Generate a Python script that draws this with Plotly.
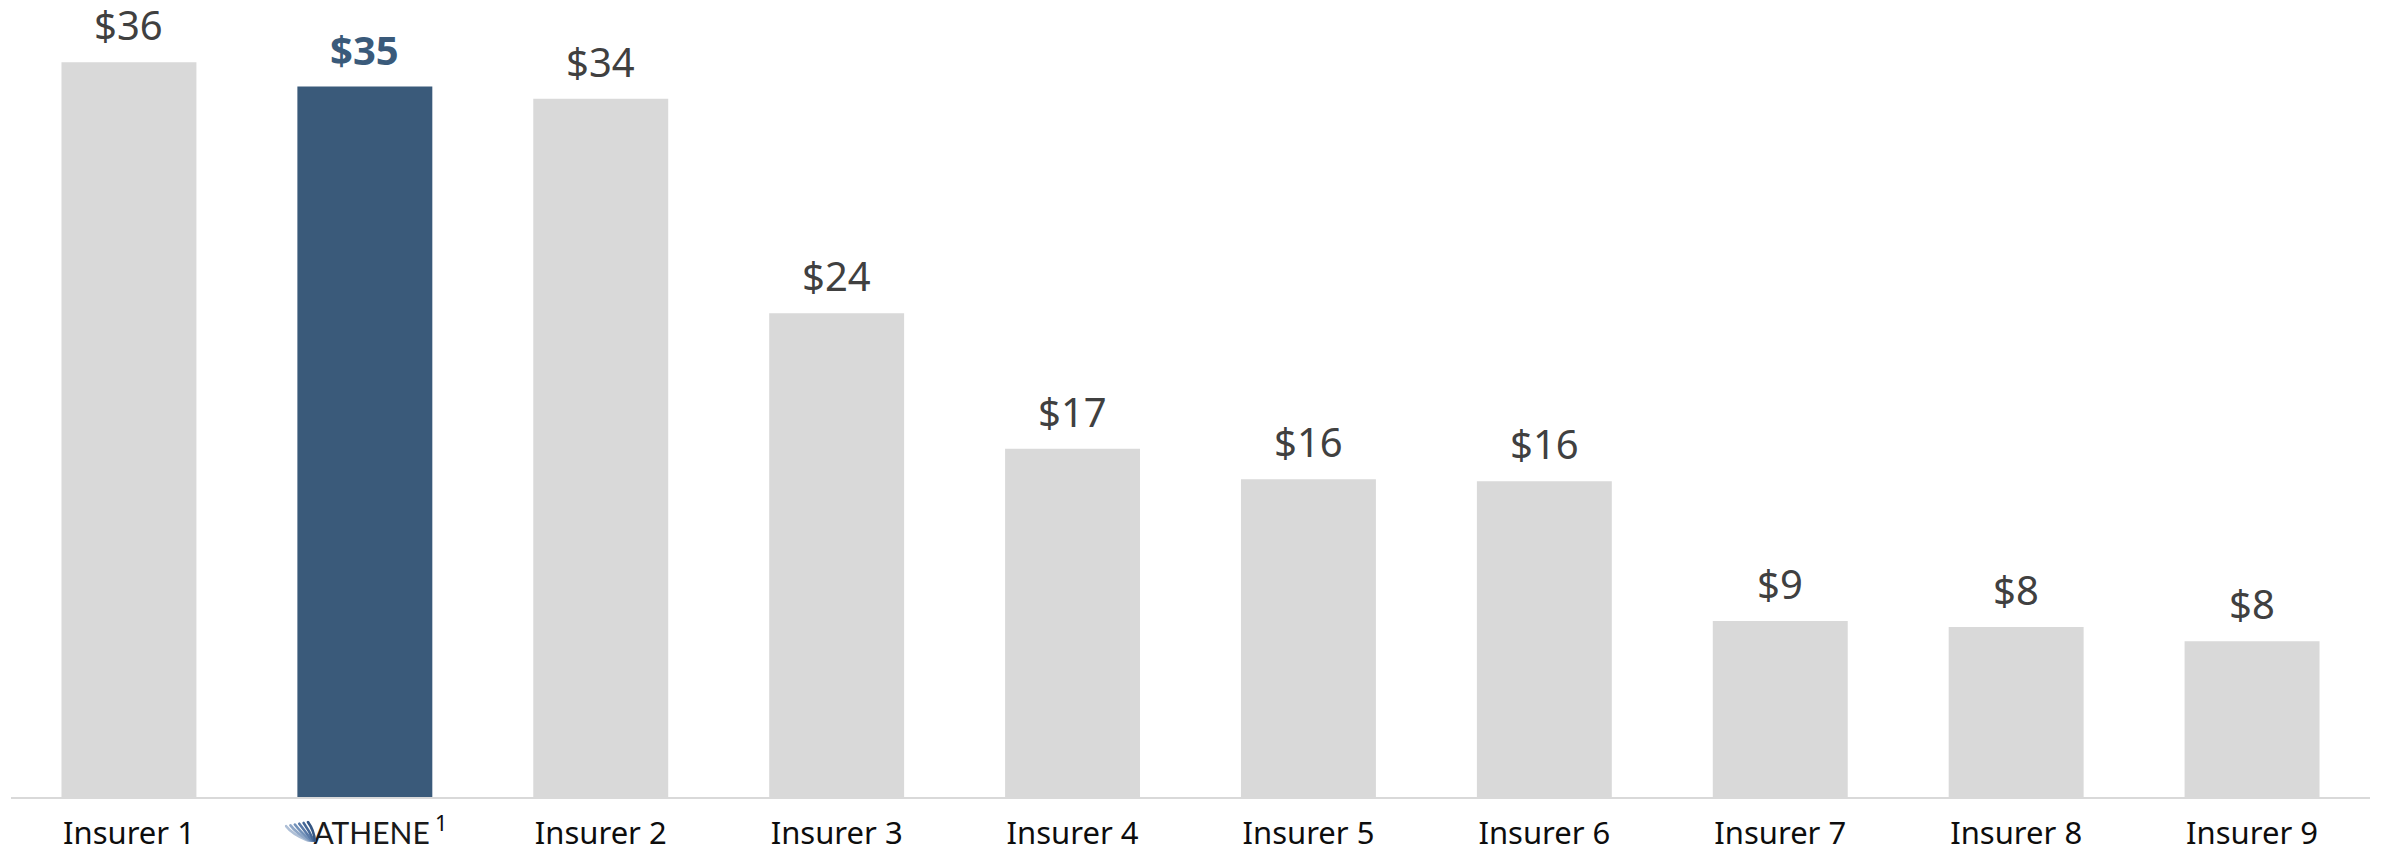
import base64
import plotly.graph_objects as go

# Values ($, rounded in labels)
categories = ["Insurer 1", "Athene", "Insurer 2", "Insurer 3", "Insurer 4",
              "Insurer 5", "Insurer 6", "Insurer 7", "Insurer 8", "Insurer 9"]
values = [36.3, 35.1, 34.5, 23.9, 17.2, 15.7, 15.6, 8.7, 8.4, 7.7]
tick_labels = ["Insurer 1",
               "\u2003<span style='font-family:Lato;font-size:30px;color:#1a1a1a'>ATHENE</span>"
               "\u2009<sup>1</sup>",
               "Insurer 2", "Insurer 3", "Insurer 4", "Insurer 5",
               "Insurer 6", "Insurer 7", "Insurer 8", "Insurer 9"]
highlight = "Athene"

GREY = "#D9D9D9"
BLUE = "#3A5A7A"

bar_colors = [BLUE if c == highlight else GREY for c in categories]

fig = go.Figure(go.Bar(
    x=categories,
    y=values,
    marker=dict(color=bar_colors, line=dict(width=0)),
    hoverinfo="skip",
))

# value labels above each bar
for c, v in zip(categories, values):
    is_hl = c == highlight
    fig.add_annotation(
        x=c, y=v, xref="x", yref="y",
        text=f"<b>${v:.0f}</b>" if is_hl else f"${v:.0f}",
        showarrow=False, yanchor="bottom", yshift=8,
        font=dict(family="Noto Sans", size=40,
                  color=BLUE if is_hl else "#404040"),
    )

# small swoosh logo for the Athene tick label
stripes = []
shades = ["#aebfd6", "#8fa7c7", "#7190b8", "#5a7aa8", "#456796", "#355684"]
for i, col in enumerate(shades):
    x0 = 1.5 + i * 4.4
    y0 = 5.5 - i * 0.8
    stripes.append(
        f'<path d="M{x0:.1f},{y0:.1f} Q{x0 + 6:.1f},{y0 + 8:.1f} {25 + i * 1.1:.1f},20.5" '
        f'stroke="{col}" stroke-width="2.6" fill="none" stroke-linecap="round"/>'
    )
svg = ('<svg xmlns="http://www.w3.org/2000/svg" width="32" height="21" '
       'viewBox="0 0 32 21">' + "".join(stripes) + "</svg>")
logo_src = "data:image/svg+xml;base64," + base64.b64encode(svg.encode()).decode()

fig.add_layout_image(dict(
    source=logo_src, xref="x", yref="paper",
    x=0.66, y=-0.030, sizex=0.135, sizey=0.027,
    xanchor="left", yanchor="top", sizing="stretch", layer="above",
))

# page body adds an 8px margin, so the figure is 8px smaller than the window
fig.update_layout(
    width=2376,
    height=845,
    paper_bgcolor="white",
    plot_bgcolor="white",
    bargap=0.428,
    showlegend=False,
    margin=dict(l=3, r=14, t=2, b=56, pad=0),
    font=dict(family="Noto Sans", color="#000000"),
    xaxis=dict(
        tickmode="array",
        tickvals=categories,
        ticktext=tick_labels,
        tickfont=dict(family="Noto Sans", size=31, color="#0d0d0d"),
        ticklabelstandoff=8,
        showline=True,
        linecolor=GREY,
        linewidth=2,
        ticks="",
        showgrid=False,
        zeroline=False,
        automargin=False,
        fixedrange=True,
    ),
    yaxis=dict(
        visible=False,
        range=[0, 38.88],
        showgrid=False,
        zeroline=False,
        automargin=False,
        fixedrange=True,
    ),
)

fig.write_html("out.html")
